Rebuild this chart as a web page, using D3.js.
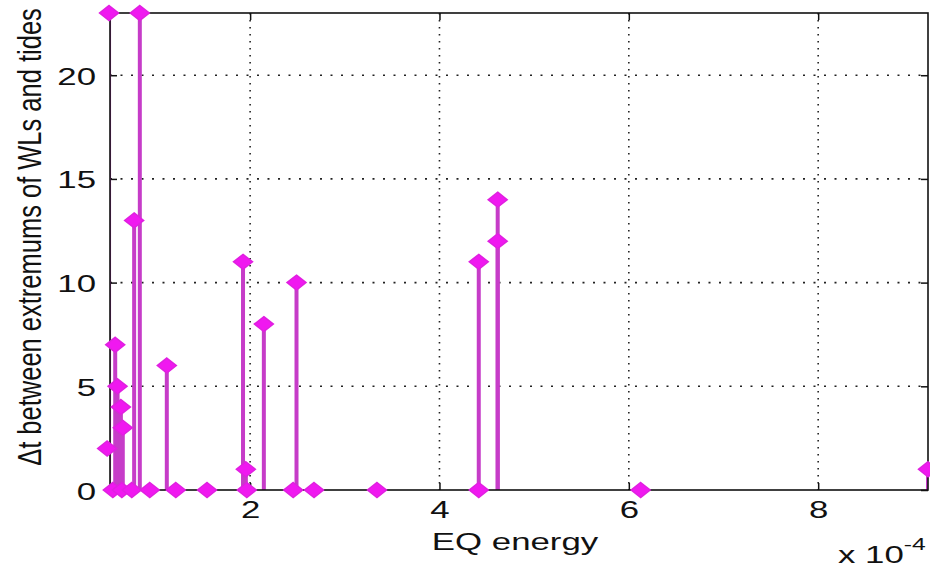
<!DOCTYPE html>
<html>
<head>
<meta charset="utf-8">
<script src="https://cdn.jsdelivr.net/npm/d3@7"></script>
<style>
  html, body { margin: 0; padding: 0; background: #fff; }
  svg { display: block; }
  text { font-family: "Liberation Sans", Arial, Helvetica, sans-serif; fill: #111; }
</style>
</head>
<body>
<svg id="chart" width="930" height="567"></svg>
<script>
// Earthquake energy (in units of 1e-4) and the time lag between water-level and tide extremums
const energyE4 = [0.51, 0.49, 0.55, 0.575, 0.60, 0.635, 0.645, 0.655, 0.75, 0.775, 0.835, 0.94,
                  1.12, 1.215, 1.545, 1.925, 1.955, 1.965, 2.145, 2.455, 2.49, 2.675, 3.34,
                  4.415, 4.415, 4.615, 4.615, 6.125, 9.16];
const deltaT   = [23, 2, 0, 7, 5, 4, 0, 3, 0, 13, 23, 0,
                  6, 0, 0, 11, 1, 0, 8, 0, 10, 0, 0,
                  11, 0, 14, 12, 0, 1];
const xTicks = [2, 4, 6, 8];
const yTicks = [0, 5, 10, 15, 20];
const xLabel = "EQ energy";
const yLabel = "\u0394t between extremums of WLs and tides";

const W = 930, H = 567;
const plot = { left: 110, right: 928, top: 13, bottom: 490 };
const stretch = 1.45;   // horizontal widening of all lettering
const fontSize = 24;

const svg = d3.select("#chart");
svg.append("rect").attr("width", W).attr("height", H).attr("fill", "#fff");

svg.append("defs").append("clipPath").attr("id", "plot-clip")
  .append("rect")
  .attr("x", plot.left).attr("y", plot.top - 1)
  .attr("width", plot.right - plot.left).attr("height", plot.bottom - plot.top + 1);

const x = d3.scaleLinear().domain([0.52, 9.16]).range([plot.left, plot.right]);
const y = d3.scaleLinear().domain([0, 23]).range([plot.bottom, plot.top]);

// dotted grid
const grid = svg.append("g").attr("stroke", "#222").attr("stroke-width", 1.6).attr("fill", "none");
grid.selectAll("line.gx").data(xTicks).join("line")
  .attr("x1", d => x(d)).attr("x2", d => x(d))
  .attr("y1", plot.top).attr("y2", plot.bottom)
  .attr("stroke-dasharray", "1.6,5.4");
grid.selectAll("line.gy").data(yTicks.filter(d => d > 0)).join("line")
  .attr("x1", plot.left).attr("x2", plot.right)
  .attr("y1", d => y(d)).attr("y2", d => y(d))
  .attr("stroke-dasharray", "2,8.5");

// axes with inward ticks
const xAxis = svg.append("g").attr("transform", `translate(0,${plot.bottom})`)
  .call(d3.axisBottom(x).tickValues(xTicks).tickSize(-7).tickPadding(0).tickFormat(d3.format("d")));
const xAxisTop = svg.append("g").attr("transform", `translate(0,${plot.top})`)
  .call(d3.axisTop(x).tickValues(xTicks).tickSize(-7).tickFormat(""));
const yAxis = svg.append("g").attr("transform", `translate(${plot.left},0)`)
  .call(d3.axisLeft(y).tickValues(yTicks).tickSize(-7).tickPadding(0).tickFormat(d3.format("d")));
const yAxisRight = svg.append("g").attr("transform", `translate(${plot.right},0)`)
  .call(d3.axisRight(y).tickValues(yTicks).tickSize(-7).tickFormat(""));

[xAxis, xAxisTop, yAxis, yAxisRight].forEach(g => {
  g.select(".domain").remove();
  g.selectAll(".tick line").attr("stroke", "#111").attr("stroke-width", 1.5);
});
xAxis.selectAll(".tick text")
  .attr("y", 0).attr("dy", 0)
  .attr("transform", `translate(0,28) scale(${stretch},1)`)
  .attr("font-size", fontSize).attr("fill", "#111");
yAxis.selectAll(".tick text")
  .attr("x", 0).attr("dy", 0)
  .attr("transform", `translate(-14,9) scale(${stretch},1)`)
  .attr("font-size", fontSize).attr("fill", "#111");

// stems (clipped to the plot area) and diamond markers
const pts = energyE4.map((e, i) => ({ e, v: deltaT[i] }));
svg.append("g").attr("clip-path", "url(#plot-clip)")
  .selectAll("line").data(pts.filter(d => d.v > 0)).join("line")
  .attr("x1", d => x(d.e)).attr("x2", d => x(d.e))
  .attr("y1", y(0)).attr("y2", d => y(d.v))
  .attr("stroke", "#c63cc8").attr("stroke-width", 4);

// plot box
svg.append("rect")
  .attr("x", plot.left).attr("y", plot.top)
  .attr("width", plot.right - plot.left).attr("height", plot.bottom - plot.top)
  .attr("fill", "none").attr("stroke", "#111").attr("stroke-width", 1.6);

const diamond = "M0,-7.5 L9.5,0 L0,7.5 L-9.5,0 Z";
svg.append("g").selectAll("path").data(pts).join("path")
  .attr("d", diamond)
  .attr("transform", d => `translate(${x(d.e)},${y(d.v)})`)
  .attr("fill", "#f018f0").attr("stroke", "#e020e0").attr("stroke-width", 1.5);

// axis titles
svg.append("text")
  .attr("transform", `translate(515,550) scale(${stretch},1)`)
  .attr("text-anchor", "middle").attr("font-size", fontSize)
  .text(xLabel);

svg.append("text")
  .attr("transform", `translate(41,237) scale(1.3,1) rotate(-90)`)
  .attr("text-anchor", "middle").attr("font-size", 25.5)
  .text(yLabel);

// exponent multiplier
const mult = svg.append("text")
  .attr("transform", `translate(838,563) scale(${stretch},1)`)
  .attr("font-size", fontSize);
mult.append("tspan").text("x 10");
mult.append("tspan").attr("font-size", 17).attr("dy", -13).text("-4");
</script>
</body>
</html>
